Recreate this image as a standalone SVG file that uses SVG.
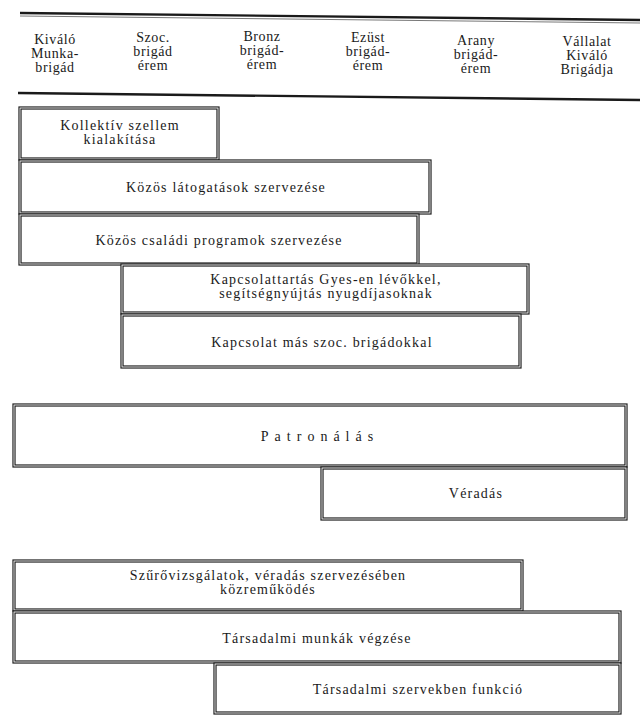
<svg xmlns="http://www.w3.org/2000/svg" width="640" height="717" viewBox="0 0 640 717">
<style>
  .bg { fill: #ffffff; }
  .box { fill: #ffffff; stroke: #1a1a1a; stroke-width: 3.2; }
  .gap { fill: none; stroke: #ffffff; stroke-width: 0.9; }
  .rule { stroke: #1a1a1a; stroke-width: 2.4; fill: none; }
  .rule2 { stroke: #555555; stroke-width: 0.8; fill: none; }
  text { fill: #1a1a1a; text-anchor: middle; }
  .hd { font-size: 14px; letter-spacing: 0.6px; }
  .lb { font-size: 14px; letter-spacing: 1.2px; }
  .sp { font-size: 14px; letter-spacing: 6px; }
</style>
<rect class="bg" x="0" y="0" width="640" height="717"/>
<g font-family="'Liberation Serif', 'DejaVu Serif', serif">
<g id="header">
  <path class="rule" d="M20 13 L640 20"/>
  <path class="rule2" d="M20 16 L640 23"/>
  <path class="rule" d="M18 93 L640 100"/>
  <text class="hd" x="55" y="44">Kiváló</text>
  <text class="hd" x="55" y="58">Munka-</text>
  <text class="hd" x="55" y="72">brigád</text>
  <text class="hd" x="153" y="42">Szoc.</text>
  <text class="hd" x="153" y="56">brigád</text>
  <text class="hd" x="153" y="70">érem</text>
  <text class="hd" x="262" y="41">Bronz</text>
  <text class="hd" x="262" y="55">brigád-</text>
  <text class="hd" x="262" y="69">érem</text>
  <text class="hd" x="368" y="42">Ezüst</text>
  <text class="hd" x="368" y="56">brigád-</text>
  <text class="hd" x="368" y="70">érem</text>
  <text class="hd" x="476" y="45">Arany</text>
  <text class="hd" x="476" y="59">brigád-</text>
  <text class="hd" x="476" y="73">érem</text>
  <text class="hd" x="587" y="46">Vállalat</text>
  <text class="hd" x="587" y="60">Kiváló</text>
  <text class="hd" x="587" y="74">Brigádja</text>
</g>

<g id="connectors"></g>

<g id="n1">
  <rect class="box" x="20" y="108" width="198" height="51"/>
  <rect class="gap" x="20" y="108" width="198" height="51"/>
  <text class="lb" x="120" y="130">Kollektív szellem</text>
  <text class="lb" x="120" y="144">kialakítása</text>
</g>
<g id="n2">
  <rect class="box" x="20" y="161" width="410" height="52"/>
  <rect class="gap" x="20" y="161" width="410" height="52"/>
  <text class="lb" x="226" y="192">Közös látogatások szervezése</text>
</g>
<g id="n3">
  <rect class="box" x="20" y="215" width="398" height="49"/>
  <rect class="gap" x="20" y="215" width="398" height="49"/>
  <text class="lb" x="219" y="245">Közös családi programok szervezése</text>
</g>
<g id="n4">
  <rect class="box" x="122" y="265" width="406" height="48"/>
  <rect class="gap" x="122" y="265" width="406" height="48"/>
  <text class="lb" x="326" y="284">Kapcsolattartás Gyes-en lévőkkel,</text>
  <text class="lb" x="326" y="298">segítségnyújtás nyugdíjasoknak</text>
</g>
<g id="n5">
  <rect class="box" x="122" y="315" width="398" height="52"/>
  <rect class="gap" x="122" y="315" width="398" height="52"/>
  <text class="lb" x="322" y="347">Kapcsolat más szoc. brigádokkal</text>
</g>
<g id="n6">
  <rect class="box" x="14" y="405" width="612" height="61"/>
  <rect class="gap" x="14" y="405" width="612" height="61"/>
  <text class="sp" x="320" y="441">Patronálás</text>
</g>
<g id="n7">
  <rect class="box" x="322" y="468" width="304" height="51"/>
  <rect class="gap" x="322" y="468" width="304" height="51"/>
  <text class="lb" x="476" y="498">Véradás</text>
</g>
<g id="n8">
  <rect class="box" x="14" y="561" width="508" height="49"/>
  <rect class="gap" x="14" y="561" width="508" height="49"/>
  <text class="lb" x="268" y="580">Szűrővizsgálatok, véradás szervezésében</text>
  <text class="lb" x="268" y="594">közreműködés</text>
</g>
<g id="n9">
  <rect class="box" x="14" y="612" width="606" height="50"/>
  <rect class="gap" x="14" y="612" width="606" height="50"/>
  <text class="lb" x="317" y="643">Társadalmi munkák végzése</text>
</g>
<g id="n10">
  <rect class="box" x="215" y="664" width="405" height="49"/>
  <rect class="gap" x="215" y="664" width="405" height="49"/>
  <text class="lb" x="418" y="694">Társadalmi szervekben funkció</text>
</g>
</g>
</svg>
